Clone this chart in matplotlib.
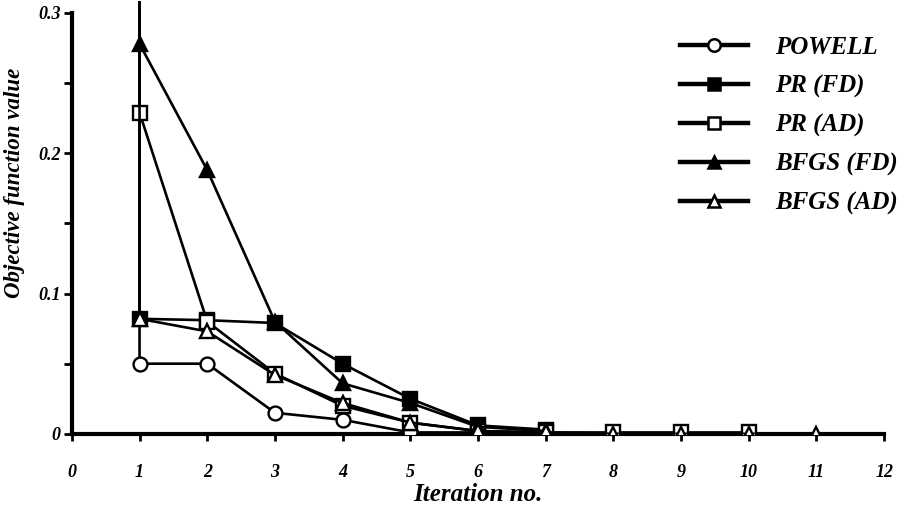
import matplotlib
matplotlib.use("Agg")
import matplotlib.pyplot as plt
from matplotlib.lines import Line2D

# ---- data (first point of each series is the off-scale starting value at iteration 1) ----
start_value = 0.60
powell_x = [1, 1, 2, 3, 4, 5, 6, 7]
powell_y = [start_value, 0.050, 0.050, 0.015, 0.010, 0.001, 0.001, 0.000]

prfd_x = [1, 1, 2, 3, 4, 5, 6, 7]
prfd_y = [start_value, 0.082, 0.081, 0.079, 0.050, 0.025, 0.006, 0.003]

prad_x = [1, 1, 2, 3, 4, 5, 6, 7, 8, 9, 10]
prad_y = [start_value, 0.229, 0.080, 0.043, 0.020, 0.008, 0.002, 0.001, 0.001, 0.001, 0.001]

bfgsfd_x = [1, 1, 2, 3, 4, 5, 6, 7]
bfgsfd_y = [start_value, 0.278, 0.188, 0.080, 0.036, 0.022, 0.005, 0.002]

bfgsad_x = [1, 1, 2, 3, 4, 5, 6, 7, 8, 9, 10, 11]
bfgsad_y = [start_value, 0.082, 0.073, 0.042, 0.022, 0.008, 0.002, 0.001, 0.000, 0.000, 0.000, 0.000]

labels = ["POWELL", "PR (FD)", "PR (AD)", "BFGS (FD)", "BFGS (AD)"]
x_ticks = list(range(0, 13))
y_major = [0, 0.1, 0.2, 0.3]
y_major_labels = ["0", "0.1", "0.2", "0.3"]
y_minor = [0.05, 0.15, 0.25]

font = dict(family="Liberation Serif", weight="bold", style="italic")

fig = plt.figure(figsize=(9.21, 5.11), dpi=100)
ax = fig.add_axes([0.078, 0.151, 0.882, 0.847])

series = [
    (powell_x, powell_y, "o", "white"),
    (prfd_x, prfd_y, "s", "black"),
    (prad_x, prad_y, "s", "white"),
    (bfgsfd_x, bfgsfd_y, "^", "black"),
    (bfgsad_x, bfgsad_y, "^", "white"),
]
handles = []
for (xs, ys, m, fc), lab in zip(series, labels):
    ax.plot(xs, ys, color="black", lw=1.9, marker=m, markersize=10,
            markerfacecolor=fc, markeredgecolor="black", markeredgewidth=1.7,
            markevery=list(range(1, len(xs))), zorder=3)
    handles.append(Line2D([0], [0], color="black", lw=3.2, marker=m, markersize=9,
                          markerfacecolor=fc, markeredgecolor="black",
                          markeredgewidth=1.8, label=lab))

ax.set_xlim(0, 12)
ax.set_ylim(0, 0.3085)
for s in ["top", "right"]:
    ax.spines[s].set_visible(False)
ax.spines["left"].set_bounds(0, 0.3)
ax.spines["left"].set_linewidth(3)
ax.spines["bottom"].set_linewidth(3)

ax.set_xticks(x_ticks)
ax.set_xticklabels([str(t) for t in x_ticks], **font, fontsize=13)
ax.set_yticks(y_major)
ax.set_yticklabels(y_major_labels, **font, fontsize=13)
ax.set_yticks(y_minor, minor=True)
ax.tick_params(axis="x", direction="out", length=5, width=2, pad=17)
ax.tick_params(axis="y", which="both", direction="out", length=6, width=2, pad=2)

ax.set_xlabel("Iteration no.", **font, fontsize=18)
ax.xaxis.set_label_coords(0.5, -0.113)
ax.set_ylabel("Objective function value", **font, fontsize=16.5)
ax.yaxis.set_label_coords(-0.058, 0.58)

leg = fig.legend(handles=handles, loc="upper left", bbox_to_anchor=(680 / 921, 1 - 36 / 511),
                 frameon=False, handlelength=2.7, handletextpad=1.1,
                 labelspacing=0.62, borderpad=0, borderaxespad=0,
                 prop=dict(family="Liberation Serif", weight="bold", style="italic", size=18))

fig.savefig("out.png", dpi=100)
